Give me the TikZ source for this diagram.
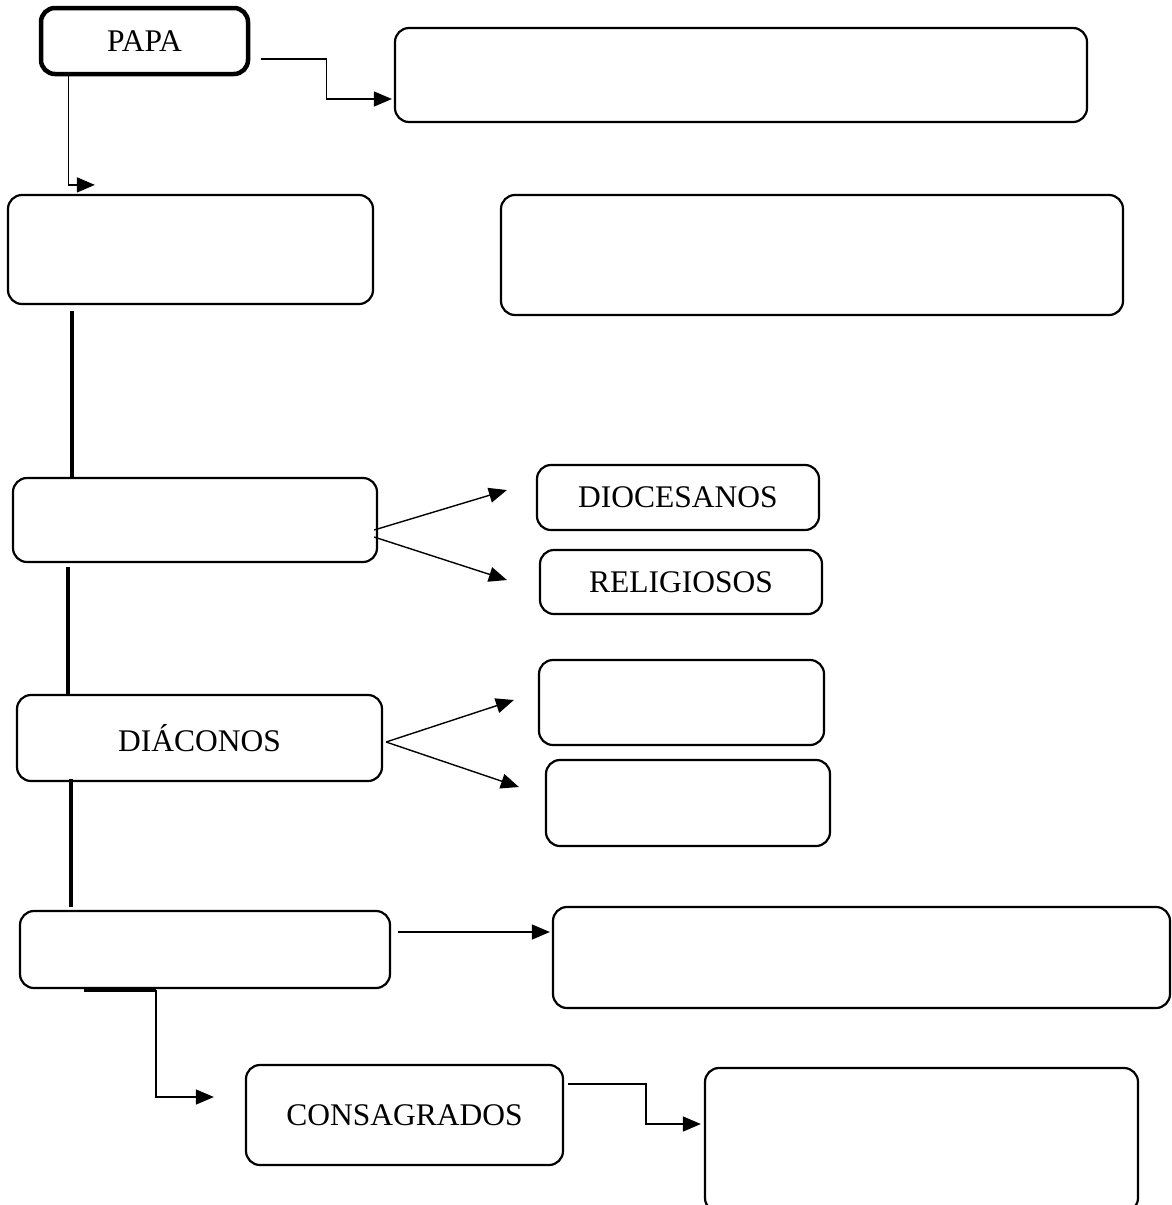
\documentclass[tikz,border=0pt]{standalone}
\usepackage{fontspec}
\setmainfont{Liberation Serif}
\usetikzlibrary{arrows.meta}
\begin{document}
\begin{tikzpicture}[x=1pt,y=-1pt,
  box/.style={draw,line width=2.2pt,rounded corners=14pt,inner sep=0pt,
    font=\fontsize{31.5}{36}\selectfont},
  conn/.style={line width=1.4pt,-{Triangle[length=18pt,width=15pt]}},
  spine/.style={line width=3.5pt}]
\useasboundingbox (0,0) rectangle (1171,1205);
\clip (0,0) rectangle (1171,1205);
% boxes
\node[box,line width=4.5pt,minimum width=207pt,minimum height=66pt] (papa) at (144.5,41) {PAPA};
\node[box,minimum width=692pt,minimum height=94pt] (top) at (741,75) {};
\node[box,minimum width=365pt,minimum height=109pt] (l1) at (190.5,249.5) {};
\node[box,minimum width=622pt,minimum height=120pt] (r1) at (812,255) {};
\node[box,minimum width=364pt,minimum height=84pt] (l2) at (195,520) {};
\node[box,minimum width=282pt,minimum height=65pt] (dioc) at (678,497.5) {DIOCESANOS};
\node[box,minimum width=282pt,minimum height=64pt] (relig) at (681,582) {RELIGIOSOS};
\node[box,minimum width=365pt,minimum height=86pt] (diac) at (199.5,738) {DIÁCONOS};
\node[box,minimum width=285pt,minimum height=85pt] (r3) at (681.5,702.5) {};
\node[box,minimum width=284pt,minimum height=86pt] (r4) at (688,803) {};
\node[box,minimum width=370pt,minimum height=77pt] (l4) at (205,949.5) {};
\node[box,minimum width=617pt,minimum height=101pt] (r5) at (861.5,957.5) {};
\node[box,minimum width=317pt,minimum height=100pt] (cons) at (404.5,1115) {CONSAGRADOS};
\node[box,minimum width=433pt,minimum height=144pt] (r6) at (921.5,1140) {};
% connectors
\draw[conn] ([shift={(11pt,-18pt)}]papa.east) -- ++(65,0) |- ([shift={(-2pt,-24pt)}]top.west);
\draw[conn] ([shift={(30pt,3pt)}]papa.south west) |- ([shift={(88pt,9pt)}]l1.north west);
\draw[spine] ([shift={(65pt,-6pt)}]l1.south west) -- ([shift={(60pt,0pt)}]l2.north west);
\draw[spine] ([shift={(56pt,-4pt)}]l2.south west) -- ([shift={(52pt,0pt)}]diac.north west);
\draw[spine] ([shift={(55pt,3pt)}]diac.south west) -- ([shift={(52pt,3pt)}]l4.north west);
\draw[conn] ([shift={(-4pt,-10pt)}]l2.east) -- ([shift={(-29pt,7.5pt)}]dioc.west);
\draw[conn] ([shift={(-4pt,-17pt)}]l2.east) -- ([shift={(-32pt,2pt)}]relig.west);
\draw[conn] ([shift={(3pt,-4pt)}]diac.east) -- ([shift={(-24pt,2.5pt)}]r3.west);
\draw[conn] ([shift={(3pt,-4pt)}]diac.east) -- ([shift={(-26pt,16pt)}]r4.west);
\draw[conn] ([shift={(7pt,17.5pt)}]l4.east) -- ([shift={(-2pt,25.5pt)}]r5.west);
\draw[line width=2.5pt] ([shift={(65pt,-1.5pt)}]l4.south west) -- ([shift={(137pt,-1.5pt)}]l4.south west);
\draw[conn] ([shift={(137pt,-1pt)}]l4.south west) |- ([shift={(-31pt,18pt)}]cons.west);
\draw[conn] ([shift={(4pt,31pt)}]cons.east) -- ++(78,0) |- ([shift={(-3pt,16pt)}]r6.west);
\end{tikzpicture}
\end{document}
